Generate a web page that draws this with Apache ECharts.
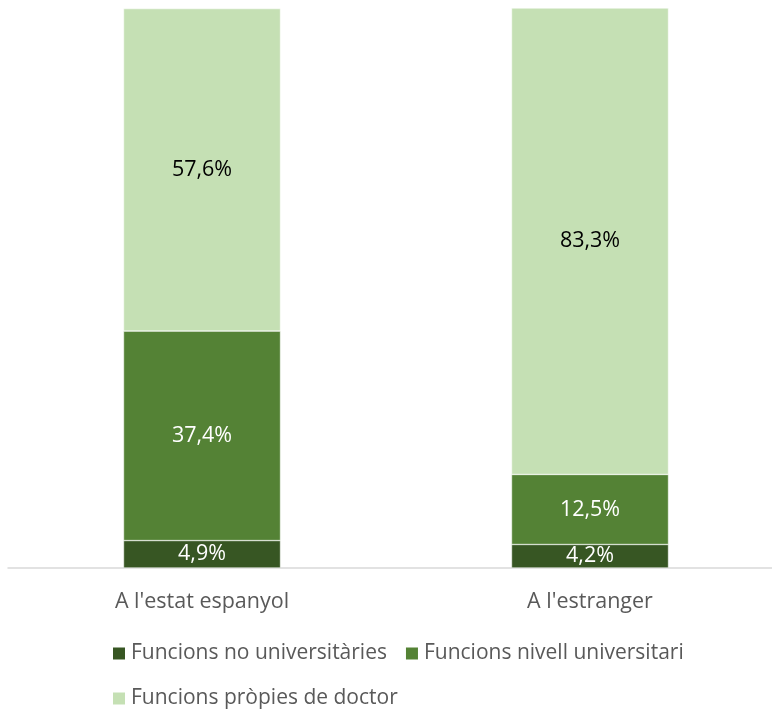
<!DOCTYPE html>
<html>
<head>
<meta charset="utf-8">
<script src="https://cdn.jsdelivr.net/npm/echarts@6/dist/echarts.min.js"></script>
<style>
  html, body { margin: 0; padding: 0; background: #fff; overflow: hidden; }
  #chart { width: 792px; height: 711px; }
</style>
</head>
<body>
<div id="chart"></div>
<script>
  var categories = ["A l'estat espanyol", "A l'estranger"];
  var seriesNames = ['Funcions no universitàries', 'Funcions nivell universitari', 'Funcions pròpies de doctor'];
  var noUniv = [4.9, 4.2];
  var nivellUniv = [37.4, 12.5];
  var doctor = [57.6, 83.3];
  var colors = ['#375623', '#548235', '#C5E0B4'];
  var labelColors = ['#ffffff', '#ffffff', '#000000'];

  var font = 'Open Sans';
  var chart = echarts.init(document.getElementById('chart'));

  function fmt(p) {
    return p.value.toFixed(1).replace('.', ',') + '%';
  }

  var values = [noUniv, nivellUniv, doctor];
  var series = values.map(function (d, i) {
    return {
      name: seriesNames[i],
      type: 'bar',
      stack: 'total',
      barWidth: 157,
      data: d,
      itemStyle: { color: colors[i], borderColor: '#ffffff', borderWidth: 0.5 },
      label: {
        show: true,
        position: 'inside',
        formatter: fmt,
        color: labelColors[i],
        fontFamily: font,
        fontSize: 21.5
      }
    };
  });

  chart.setOption({
    animation: false,
    textStyle: { fontFamily: font },
    grid: { left: 8, width: 776, top: 8, bottom: 143, containLabel: false },
    xAxis: {
      type: 'category',
      data: categories,
      axisLine: { lineStyle: { color: '#D9D9D9', width: 1.5 } },
      axisTick: { show: false },
      axisLabel: { color: '#595959', fontFamily: font, fontSize: 21.5, margin: 23 }
    },
    yAxis: {
      type: 'value',
      min: 0,
      max: 100,
      show: false
    },
    legend: [
      {
        data: seriesNames.slice(0, 2),
        left: 106,
        top: 638,
        icon: 'rect',
        itemWidth: 14,
        itemHeight: 14,
        itemGap: 17,
        textStyle: { color: '#595959', fontFamily: font, fontSize: 21 }
      },
      {
        data: seriesNames.slice(2),
        left: 106,
        top: 683,
        icon: 'rect',
        itemWidth: 14,
        itemHeight: 14,
        textStyle: { color: '#595959', fontFamily: font, fontSize: 21 }
      }
    ],
    series: series
  });
</script>
</body>
</html>
